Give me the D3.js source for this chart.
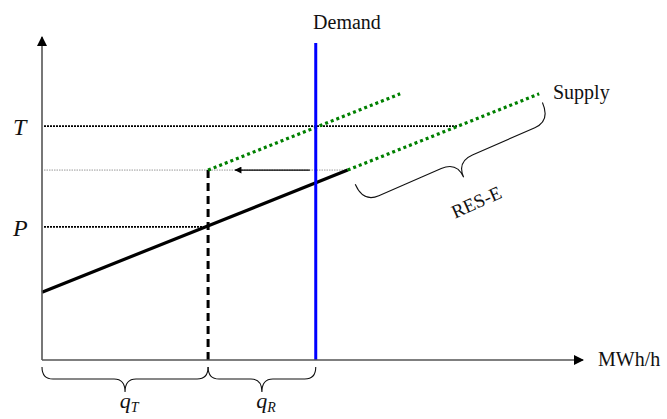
<!DOCTYPE html>
<html>
<head>
<meta charset="utf-8">
<script src="https://cdn.jsdelivr.net/npm/d3@7"></script>
<style>
  html, body { margin: 0; padding: 0; background: #fff; }
  text { font-family: "Liberation Serif", "Times New Roman", serif; fill: #111; }
</style>
</head>
<body>
<svg id="chart" width="667" height="419"></svg>
<script>
// Quantity (MWh/h) and price values, in arbitrary diagram units (0-100)
const qTarget = 30.7;          // q_T: conventional quantity at price P
const qDemand = 50.6;          // inelastic demand
const supplyConventional = [{ q: 0, p: 21.0 }, { q: 56.5, p: 58.8 }];
const supplyRES = [{ q: 56.5, p: 58.8 }, { q: 91.9, p: 82.4 }];
const supplyShifted = [{ q: 30.7, p: 58.8 }, { q: 66.2, p: 82.4 }];
const priceLevels = [
  { label: "T", p: 72.4, qEnd: 76.9 },
  { label: "P", p: 41.2, qEnd: 30.7 }
];
const shiftLevel = { p: 58.8, qEnd: 56.5, arrowFrom: 49.5, arrowTo: 35.7 };
const quantityBraces = [
  { label: "q", sub: "T", q0: 0, q1: qTarget },
  { label: "q", sub: "R", q0: qTarget, q1: qDemand }
];
const resBrace = [{ q: 57.9, p: 54.4 }, { q: 92.5, p: 79.7 }];

const svg = d3.select("#chart");
const x = d3.scaleLinear().domain([0, 100]).range([42, 583]);
const y = d3.scaleLinear().domain([0, 100]).range([360, 37]);
const line = d3.line().x(d => x(d.q)).y(d => y(d.p));

// arrow markers
const defs = svg.append("defs");
defs.append("marker").attr("id", "axisHead")
  .attr("viewBox", "0 0 10 10").attr("refX", 9).attr("refY", 5)
  .attr("markerUnits", "userSpaceOnUse").attr("markerWidth", 11).attr("markerHeight", 10)
  .attr("orient", "auto")
  .append("path").attr("d", "M0,0 L10,5 L0,10 z").attr("fill", "#000");
defs.append("marker").attr("id", "shiftHead")
  .attr("viewBox", "0 0 10 10").attr("refX", 9).attr("refY", 5)
  .attr("markerUnits", "userSpaceOnUse").attr("markerWidth", 9).attr("markerHeight", 7)
  .attr("orient", "auto")
  .append("path").attr("d", "M0,0 L10,5 L0,10 z").attr("fill", "#000");

// price reference lines
svg.append("g").selectAll("line").data(priceLevels).join("line")
  .attr("x1", x(0) + 2).attr("x2", d => x(d.qEnd))
  .attr("y1", d => y(d.p)).attr("y2", d => y(d.p))
  .attr("stroke", "#000").attr("stroke-width", 1.6).attr("stroke-dasharray", "2,1");

svg.append("g").selectAll("text").data(priceLevels).join("text")
  .attr("x", 13).attr("y", d => y(d.p) + 9)
  .attr("font-size", 24).attr("font-style", "italic")
  .text(d => d.label);

// thin grey level line of the shifted supply
svg.append("line")
  .attr("x1", x(0) + 2).attr("x2", x(shiftLevel.qEnd))
  .attr("y1", y(shiftLevel.p)).attr("y2", y(shiftLevel.p))
  .attr("stroke", "#999").attr("stroke-width", 1).attr("stroke-dasharray", "1.5,1");

// shift arrow
svg.append("line")
  .attr("x1", x(shiftLevel.arrowFrom)).attr("x2", x(shiftLevel.arrowTo))
  .attr("y1", y(shiftLevel.p)).attr("y2", y(shiftLevel.p))
  .attr("stroke", "#000").attr("stroke-width", 1.2)
  .attr("marker-end", "url(#shiftHead)");

// q_T dashed drop line
svg.append("line")
  .attr("x1", x(qTarget)).attr("x2", x(qTarget))
  .attr("y1", y(shiftLevel.p)).attr("y2", y(0))
  .attr("stroke", "#000").attr("stroke-width", 3).attr("stroke-dasharray", "8,5");

// supply curves
svg.append("path").datum(supplyConventional).attr("d", line)
  .attr("fill", "none").attr("stroke", "#000").attr("stroke-width", 3.2);
[supplyRES, supplyShifted].forEach(s => {
  svg.append("path").datum(s).attr("d", line)
    .attr("fill", "none").attr("stroke", "#008000").attr("stroke-width", 3.2)
    .attr("stroke-dasharray", "3,3");
});

// demand
svg.append("line")
  .attr("x1", x(qDemand)).attr("x2", x(qDemand))
  .attr("y1", 43).attr("y2", y(0))
  .attr("stroke", "#0000ff").attr("stroke-width", 3);

// axes
svg.append("line").attr("x1", x(0)).attr("x2", x(100)).attr("y1", y(0)).attr("y2", y(0))
  .attr("stroke", "#555").attr("stroke-width", 1.6).attr("marker-end", "url(#axisHead)");
svg.append("line").attr("x1", x(0)).attr("x2", x(0)).attr("y1", y(0)).attr("y2", y(100))
  .attr("stroke", "#555").attr("stroke-width", 1.6).attr("marker-end", "url(#axisHead)");

// curly brace in a local frame: length L, ends at 0, flat at f, tip at t
function bracePath(L, f, t, r) {
  const m = L / 2;
  return `M0,0 Q0,${f} ${r},${f} L${m - r},${f} Q${m},${f} ${m},${t}` +
         ` Q${m},${f} ${m + r},${f} L${L - r},${f} Q${L},${f} ${L},0`;
}

const braceG = svg.append("g").attr("fill", "none").attr("stroke", "#111").attr("stroke-width", 1.1);
quantityBraces.forEach(b => {
  const x0 = x(b.q0), x1 = x(b.q1);
  braceG.append("path")
    .attr("transform", `translate(${x0},${y(0) + 7})`)
    .attr("d", bracePath(x1 - x0, 12, 25, 11));
  const t = svg.append("text")
    .attr("x", (x0 + x1) / 2 + 4).attr("y", 408)
    .attr("font-size", 22).attr("font-style", "italic").attr("text-anchor", "middle");
  t.append("tspan").text(b.label);
  t.append("tspan").attr("font-size", 14).attr("dy", 4).text(b.sub);
});

// RES-E brace along the renewable part of the supply curve
{
  const a = resBrace[0], b = resBrace[1];
  const ax = x(a.q), ay = y(a.p), bx = x(b.q), by = y(b.p);
  const L = Math.hypot(bx - ax, by - ay);
  const ang = Math.atan2(by - ay, bx - ax) * 180 / Math.PI;
  braceG.append("path")
    .attr("transform", `translate(${ax},${ay}) rotate(${ang}) scale(1,-1)`)
    .attr("d", bracePath(L, -20, -37, 17));
  svg.append("text")
    .attr("transform", `translate(479,208) rotate(-24)`)
    .attr("font-size", 19).attr("text-anchor", "middle")
    .text("RES-E");
}

// labels
svg.append("text").attr("x", 347).attr("y", 29).attr("font-size", 20)
  .attr("text-anchor", "middle").text("Demand");
svg.append("text").attr("x", 553).attr("y", 99).attr("font-size", 20).text("Supply");
svg.append("text").attr("x", 598).attr("y", 366).attr("font-size", 20).text("MWh/h");
</script>
</body>
</html>
